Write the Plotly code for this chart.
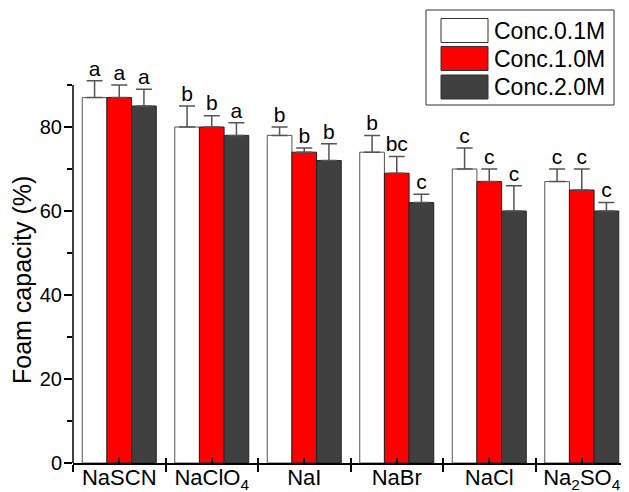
import plotly.graph_objects as go

categories = ["NaSCN", "NaClO<sub>4</sub>", "NaI", "NaBr", "NaCl", "Na<sub>2</sub>SO<sub>4</sub>"]
series_names = ["Conc.0.1M", "Conc.1.0M", "Conc.2.0M"]
values_01 = [87, 80, 78, 74, 70, 67]
values_10 = [87, 80, 74, 69, 67, 65]
values_20 = [85, 78, 72, 62, 60, 60]
errors_01 = [4, 5, 2, 4, 5, 3]
errors_10 = [3, 2.7, 1, 4, 3, 5]
errors_20 = [4, 3, 4, 2, 6, 2]
letters_01 = ["a", "b", "b", "b", "c", "c"]
letters_10 = ["a", "b", "b", "bc", "c", "c"]
letters_20 = ["a", "a", "b", "c", "c", "c"]
y_ticks = [0, 20, 40, 60, 80]
y_minor = [10, 30, 50, 70, 90]
y_axis_max = 90

values = [values_01, values_10, values_20]
errors = [errors_01, errors_10, errors_20]
letters = [letters_01, letters_10, letters_20]
fills = ["#FFFFFF", "#FF0000", "#404040"]
outlines = ["#555555", "#222222", "#222222"]

FONT = "Liberation Sans, Arial, sans-serif"
bargap = 0.2
ncat = len(categories)

# page body has an 8px margin; figure sized so the plot lands where the reference has it
OFF = 8
W, H = 629 - OFF, 492 - OFF
Y_RANGE_TOP = 95                      # a little headroom so tall error bars/letters show
px_per_unit = (463 - 85) / 90         # reference scale
plot_left, plot_right, plot_bot = 73, 628, 463  # reference pixels
plot_top = plot_bot - Y_RANGE_TOP * px_per_unit
plot_w = plot_right - plot_left

fig = go.Figure()
for j in range(3):
    fig.add_trace(go.Bar(
        x=categories, y=values[j], name=series_names[j],
        marker=dict(color=fills[j], line=dict(color=outlines[j], width=1)),
        error_y=dict(type="data", array=errors[j], arrayminus=[0] * ncat,
                     symmetric=False, color="#555555", thickness=1.5, width=8),
        showlegend=False, cliponaxis=False,
    ))

# significance letters, placed over each bar's error bar on a linear overlay axis
bw = (1 - bargap) / 3
for j in range(3):
    fig.add_trace(go.Scatter(
        x=[i + (j - 1) * bw for i in range(ncat)],
        y=[values[j][i] + errors[j][i] for i in range(ncat)],
        text=letters[j], mode="text", textposition="top center",
        textfont=dict(family=FONT, size=21, color="black"),
        xaxis="x2", yaxis="y", showlegend=False, hoverinfo="skip", cliponaxis=False,
    ))

def py(p):
    return (plot_bot - p) / (plot_bot - plot_top)
def px(p):
    return (p - plot_left) / plot_w

# y axis line drawn only up to the last tick (90)
shapes = [dict(type="line", xref="paper", yref="y", x0=0, x1=0, y0=0, y1=y_axis_max,
               line=dict(color="black", width=1.5), layer="above")]
annotations = [dict(x=px(22), y=py(280), xref="paper", yref="paper", text="Foam capacity (%)",
                    textangle=-90, showarrow=False, xanchor="center", yanchor="middle",
                    font=dict(family=FONT, size=25, color="black"))]

shapes.append(dict(type="rect", xref="paper", yref="paper",
                   x0=px(426), x1=px(614), y0=py(105), y1=py(10),
                   line=dict(color="#333333", width=1), fillcolor="white", layer="above"))
row_centers = [30.5, 58.5, 87]
for j in range(3):
    c = row_centers[j]
    shapes.append(dict(type="rect", xref="paper", yref="paper",
                       x0=px(441), x1=px(488), y0=py(c + 12), y1=py(c - 12),
                       line=dict(color="#333333", width=1), fillcolor=fills[j], layer="above"))
    annotations.append(dict(x=px(492), y=py(c), xref="paper", yref="paper",
                            text=series_names[j], showarrow=False, xanchor="left",
                            yanchor="middle", font=dict(family=FONT, size=23, color="black")))

fig.update_layout(
    template="none",
    width=W, height=H,
    margin=dict(l=plot_left - OFF, r=W - (plot_right - OFF), t=plot_top - OFF,
                b=H - (plot_bot - OFF), autoexpand=False),
    paper_bgcolor="white", plot_bgcolor="white",
    barmode="group", bargap=bargap, bargroupgap=0,
    font=dict(family=FONT, size=20, color="black"),
    xaxis=dict(type="category", range=[-0.5, ncat - 0.5], showline=True, linecolor="black",
               linewidth=1.5, ticks="outside", tickson="boundaries", ticklen=7, tickwidth=1.5,
               tickcolor="black", showgrid=False, zeroline=False, automargin=False,
               ticklabelstandoff=-6,
               tickfont=dict(family=FONT, size=22)),
    xaxis2=dict(overlaying="x", anchor="y", side="bottom", range=[-0.5, ncat - 0.5],
                tickmode="array",
                tickvals=[k - 0.5 for k in range(ncat + 1)] + list(range(ncat)),
                ticks="inside", ticklen=5, tickwidth=1.5, tickcolor="black",
                showticklabels=False, showline=False, showgrid=False, zeroline=False,
                automargin=False),
    yaxis=dict(range=[0, Y_RANGE_TOP], tickmode="array", tickvals=y_ticks, showline=False,
               ticks="outside", ticklen=8, tickwidth=1.5,
               tickcolor="black", minor=dict(tickmode="array", tickvals=y_minor,
                                             ticks="outside", ticklen=5, tickwidth=1.5,
                                             tickcolor="black"),
               showgrid=False, zeroline=False, automargin=False, ticklabelstandoff=-2,
               tickfont=dict(family=FONT, size=20)),
    shapes=shapes,
    annotations=annotations,
)

fig.write_html("out.html")
